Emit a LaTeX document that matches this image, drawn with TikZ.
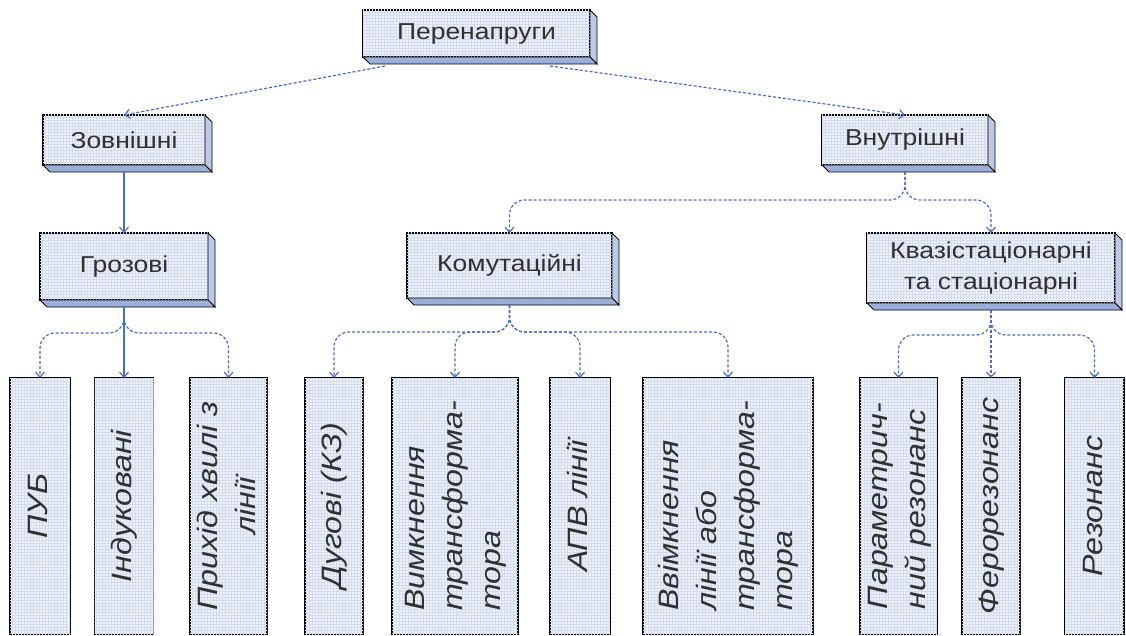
\documentclass[tikz,border=0pt]{standalone}
\usepackage{fontspec}
\setmainfont{Liberation Sans}[FakeStretch=1.15]
\usepackage{graphicx}
\usetikzlibrary{positioning}
\usetikzlibrary{arrows.meta,patterns}

\definecolor{linkblue}{HTML}{4A6EC2}
\definecolor{facefill}{HTML}{EEF2FA}
\definecolor{gridcol}{HTML}{D3DBEC}
\definecolor{sidefill}{HTML}{BCC9E8}
\definecolor{bottomfill}{HTML}{9CAFD9}
\definecolor{textgray}{HTML}{303030}

% rotated text for the lower boxes
\newcommand{\vlabel}[2][l]{\rotatebox{90}{\begin{tabular}{@{}#1@{}}#2\end{tabular}}}

\begin{document}
\begin{tikzpicture}[x=1pt,y=-1pt,>={Straight Barb[length=5pt,width=9pt]},
                    semithick]
  \tikzstyle{block}=[draw=black,line width=1.1pt,fill=facefill,
    postaction={pattern=grid,pattern color=gridcol},text=textgray,
    font=\fontsize{23}{31}\selectfont,align=center,inner sep=0pt,outer sep=0pt]
  \tikzstyle{leaf}=[block,minimum height=256pt,font=\fontsize{28}{38}\selectfont\itshape]
  \tikzstyle{link}=[->,draw=linkblue,line width=1.2pt,shorten <=7pt]
  \tikzstyle{branch}=[link,densely dashed,rounded corners=15pt]

  \useasboundingbox (0,0) rectangle (1126,636);

  \node[block,minimum width=227pt,minimum height=47pt] (per) at (476.5,33.5) {Перенапруги};
  \node[block,minimum width=162pt,minimum height=50pt] (zov) at (124,140) {Зовнішні};
  \node[block,minimum width=166pt,minimum height=50pt] (vnu) at (905,140) {Внутрішні};
  \node[block,minimum width=168pt,minimum height=67pt] (gro) at (124,266.5) {Грозові};
  \node[block,minimum width=205pt,minimum height=65pt] (kom) at (509.5,265.5) {Комутаційні};
  \node[block,minimum width=248pt,minimum height=70pt] (kva) at (991,268) {Квазістаціонарні\\та стаціонарні};

  \node[leaf,minimum width=60pt]  (puv) at (40,506)    {\vlabel{ПУБ}};
  \node[leaf,minimum width=59pt]  (ind) at (124,506)   {\vlabel{Індуковані}};
  \node[leaf,minimum width=77pt]  (prh) at (228.5,506) {\vlabel[c]{Прихід хвилі з\\лінії}};
  \node[leaf,minimum width=58pt]  (dug) at (334,506)   {\vlabel{Дугові (КЗ)}};
  \node[leaf,minimum width=126pt] (vym) at (455,506)   {\vlabel{Вимкнення\\трансформа-\\тора}};
  \node[leaf,minimum width=60pt]  (apv) at (580,506)   {\vlabel{АПВ лінії}};
  \node[leaf,minimum width=170pt] (vvm) at (728,506)   {\vlabel{Ввімкнення\\лінії або\\трансформа-\\тора}};
  \node[leaf,minimum width=77pt]  (par) at (898.5,506) {\vlabel{Параметрич-\\ний резонанс}};
  \node[leaf,minimum width=58pt]  (fer) at (991,506)   {\vlabel{Ферорезонанс}};
  \node[leaf,minimum width=59pt]  (rez) at (1094.5,506) {\vlabel{Резонанс}};

  % 3d sides of the upper boxes
  \foreach \n in {per,zov,vnu,gro,kom,kva}{
    \filldraw[draw=black,fill=sidefill,line width=0.8pt] (\n.north east) -- ++(7,7)
      -- ([shift={(7,7)}]\n.south east) -- (\n.south east) -- cycle;
    \filldraw[draw=black,fill=bottomfill,line width=0.8pt] (\n.south west) -- ++(7,7)
      -- ([shift={(7,7)}]\n.south east) -- (\n.south east) -- cycle;
  }

  \draw[link,densely dashed,shorten <=0pt] ([shift={(22,9)}]per.south west) -- (zov.north);
  \draw[link,densely dashed,shorten <=0pt] ([shift={(-40,9)}]per.south east) -- (vnu.north);
  \draw[link] (zov.south) -- (gro.north);

  \draw[branch] (vnu.south) -- ++(0,35) -| (kom.north);
  \draw[branch] (vnu.south) -- ++(0,35) -| (kva.north);

  \draw[branch] (gro.south) -- ++(0,33) -| (puv.north);
  \draw[link]   (gro.south) -- (ind.north);
  \draw[branch] (gro.south) -- ++(0,33) -| (prh.north);

  \draw[branch] (kom.south) -- ++(0,34) -| (dug.north);
  \draw[branch] (kom.south) -- ++(0,34) -| (vym.north);
  \draw[branch] (kom.south) -- ++(0,34) -| (apv.north);
  \draw[branch] (kom.south) -- ++(0,34) -| (vvm.north);

  \draw[branch] (kva.south) -- ++(0,32) -| (par.north);
  \draw[branch] (kva.south) -- (fer.north);
  \draw[branch] (kva.south) -- ++(0,32) -| (rez.north);
\end{tikzpicture}
\end{document}
